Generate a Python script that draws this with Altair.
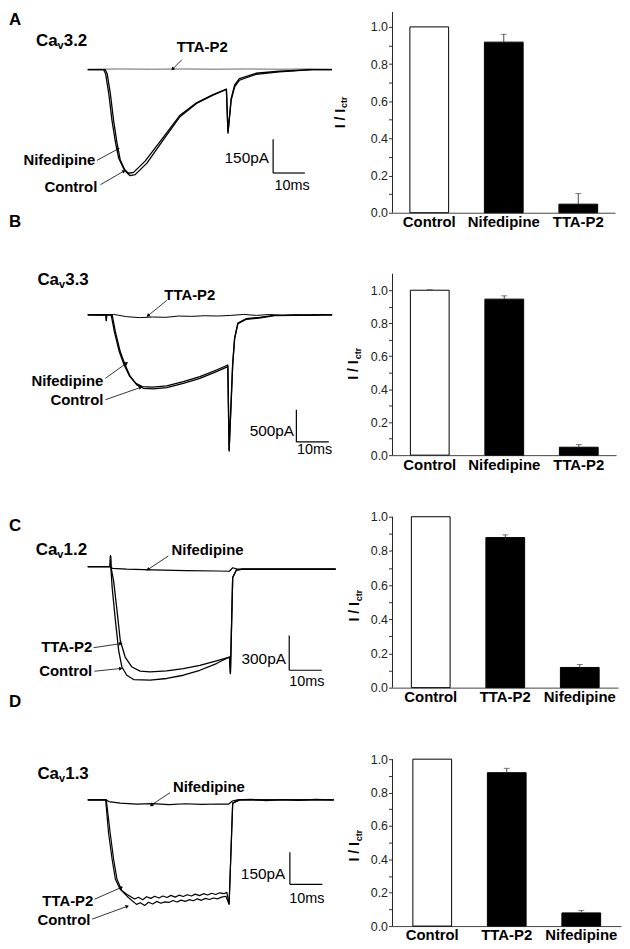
import math
import altair as alt
import pandas as pd

FONT = "Liberation Sans"

# ---------------- current traces (time in ms, current in pA) ----------------
# Panel A  Cav3.2
A_ctrl_t = [0, 5.5, 6.1, 7.1, 8.1, 9.2, 10.2, 11.8, 13.3, 14.9, 18.6, 23.75, 29.0, 34.2, 39.4, 43.6, 44.1, 44.6, 45.1, 46.2, 47.7, 52.9, 60.2, 70.5, 76.8]
A_ctrl_I = [0, 0, -18, -106, -224, -326, -400, -450, -471, -466, -415, -312, -209, -150, -113, -88, -282, -209, -135, -76, -47, -21, -10, 0, 0]
A_nif_t = [0, 5.0, 5.6, 6.6, 7.6, 8.7, 9.7, 11.3, 12.8, 14.4, 18.1, 23.5, 28.9, 34.2, 39.4, 43.6, 44.1, 44.6, 45.1, 46.2, 47.7, 52.9, 60.2, 70.5, 76.8]
A_nif_I = [0, 0, -18, -106, -224, -322, -392, -440, -460, -456, -405, -305, -204, -147, -111, -86, -275, -204, -128, -68, -40, -16, -7, 0, 0]
A_tta_t = [0, 10, 20, 30, 40, 50, 60, 70, 76.8]
A_tta_I = [2, 3, 2, 3, 2, 3, 2, 3, 2]

# Panel B  Cav3.3
B_ctrl_t = [0, 5.6, 5.7, 5.8, 7.5, 8.5, 10.0, 11.5, 13.1, 15.1, 17.1, 20.2, 24.3, 29.4, 34.5, 39.6, 43.1, 43.5, 44.6, 45.2, 46.2, 48.7, 52.8, 57.4, 75.2]
B_ctrl_I = [0, 0, -90, 0, 0, -268, -577, -783, -964, -1092, -1145, -1154, -1134, -1067, -990, -886, -809, -2123, -783, -371, -139, -71, -51, -12, 0]
B_nif_t = [0, 5.6, 5.7, 5.8, 7.2, 8.2, 9.7, 11.2, 12.8, 14.8, 16.8, 20.0, 24.3, 29.4, 34.5, 39.6, 43.1, 43.5, 44.6, 45.2, 46.2, 48.7, 52.8, 57.4, 75.2]
B_nif_I = [0, 0, -90, 0, 0, -268, -577, -783, -950, -1068, -1118, -1126, -1106, -1040, -962, -860, -782, -2100, -760, -360, -130, -62, -40, -8, 0]
B_tta_t = [0, 4, 8, 12, 16, 20, 24, 28, 32, 36, 40, 44, 48, 52, 56, 60, 64, 68, 72, 75.2]
B_tta_I = [0, -10, 5, -30, -45, -35, -40, -20, -25, -15, -20, -10, 5, -10, 5, -10, 0, -10, 5, 0]

# Panel C  Cav1.2
C_ctrl_t = [0, 6.9, 7.0, 7.1, 7.5, 8.5, 9.5, 10.5, 12.0, 14.1, 19.2, 24.3, 29.4, 34.5, 39.6, 43.6, 43.9, 44.6, 45.7, 47.7, 76.3]
C_ctrl_I = [0, 0, 92, 0, -180, -465, -722, -866, -937, -974, -980, -965, -937, -894, -836, -780, -922, -94, -31, -22, -22]
C_tta_t = [0, 6.9, 7.0, 7.1, 7.95, 9.0, 10.0, 11.5, 13.6, 16.1, 19.2, 24.3, 29.4, 34.5, 39.6, 43.6, 43.9, 44.6, 45.7, 47.7, 76.3]
C_tta_I = [0, 0, 92, 0, -123, -380, -637, -780, -866, -902, -908, -900, -879, -851, -814, -780, -922, -94, -31, -22, -22]
C_nif_t = [0, 6.9, 7.0, 7.1, 7.6, 12, 20, 30, 40, 43.6, 44.6, 46.0, 76.3]
C_nif_I = [0, 0, 92, 0, -15, -22, -28, -34, -38, -40, -10, -22, -22]

# Panel D  Cav1.3
D_ctrl_t = [0, 5.7, 6.9, 7.95, 9.0, 10.5, 12.5, 15.0, 16.2, 17.5, 18.7, 20.0, 21.2, 22.5, 23.7, 25.0, 26.2, 27.5, 28.7, 30.0, 31.2, 32.5, 33.7, 35.0, 36.2, 37.5, 38.7, 40.0, 41.2, 42.5, 43.5, 44.6, 46.7, 75.7]
D_ctrl_I = [0, 0, -155, -278, -371, -425, -456, -488, -480, -493, -478, -486, -474, -483, -476, -479, -470, -477, -468, -474, -466, -471, -462, -469, -460, -465, -458, -462, -454, -450, -487, -15, 0, 0]
D_tta_t = [0, 5.5, 6.4, 7.5, 8.5, 10.0, 12.0, 14.4, 15.6, 16.9, 18.1, 19.4, 20.6, 21.9, 23.1, 24.4, 25.6, 26.9, 28.1, 29.4, 30.6, 31.9, 33.1, 34.4, 35.6, 36.9, 38.1, 39.4, 40.6, 41.9, 42.8, 43.5, 44.6, 46.7, 75.7]
D_tta_I = [0, 0, -155, -278, -371, -418, -441, -463, -455, -466, -452, -460, -450, -458, -449, -456, -446, -454, -445, -451, -443, -449, -440, -447, -438, -444, -436, -442, -434, -438, -432, -487, -15, 0, 0]
D_nif_t = [0, 5.7, 6.5, 10, 15, 20, 25, 30, 35, 40, 43.3, 44.5, 46, 50, 55, 60, 65, 70, 75.7]
D_nif_I = [0, 0, -8, -15, -20, -17, -22, -18, -21, -19, -20, -5, 0, 3, -3, 2, -2, 3, 0]

# ---------------- normalised peak currents (I / Ictr) ----------------
BAR_A_cats = ["Control", "Nifedipine", "TTA-P2"]
BAR_A_vals = [1.0, 0.918, 0.046]
BAR_A_errs = [0.0, 0.042, 0.057]
BAR_B_cats = ["Control", "Nifedipine", "TTA-P2"]
BAR_B_vals = [1.0, 0.946, 0.048]
BAR_B_errs = [0.003, 0.02, 0.016]
BAR_C_cats = ["Control", "TTA-P2", "Nifedipine"]
BAR_C_vals = [1.0, 0.878, 0.118]
BAR_C_errs = [0.0, 0.016, 0.017]
BAR_D_cats = ["Control", "TTA-P2", "Nifedipine"]
BAR_D_vals = [1.0, 0.919, 0.079]
BAR_D_errs = [0.0, 0.026, 0.014]
Y_TICKS = [0.0, 0.1, 0.2, 0.3, 0.4, 0.5, 0.6, 0.7, 0.8, 0.9, 1.0]
PANEL_LETTERS = ["A", "B", "C", "D"]

TRACE_W = 340
COL_GAP = 46


def letter_layer(letter, x, y):
    one = pd.DataFrame({"k": [0]})
    return alt.Chart(one).mark_text(text=letter, align="left", baseline="middle", font=FONT,
                                    fontSize=17, fontWeight="bold", color="black"
                                    ).encode(x=alt.value(x), y=alt.value(y))


def trace_panel(series, dom_t, dom_I, H, letter, ca, labels, arrows, sbar, amp_lab, ms_lab):
    W = TRACE_W
    sx = W / (dom_t[1] - dom_t[0])
    sy = H / (dom_I[1] - dom_I[0])
    xs = alt.Scale(domain=dom_t, nice=False, zero=False)
    ys = alt.Scale(domain=dom_I, nice=False, zero=False)

    def X(f="t"):
        return alt.X(f"{f}:Q", scale=xs, axis=None)

    def Y(f="I"):
        return alt.Y(f"{f}:Q", scale=ys, axis=None)

    layers = []
    for ts, Is, col, sw in series:
        df = pd.DataFrame({"t": ts, "I": Is, "i": list(range(len(ts)))})
        layers.append(alt.Chart(df).mark_line(color=col, strokeWidth=sw, strokeJoin="round")
                      .encode(x=X(), y=Y(), order="i:Q"))

    def text(label, t, I, align, size, weight="bold"):
        df = pd.DataFrame({"t": [t], "I": [I], "label": [label]})
        return alt.Chart(df).mark_text(align=align, baseline="middle", font=FONT, fontSize=size,
                                       fontWeight=weight, color="black"
                                       ).encode(x=X(), y=Y(), text="label:N")

    if letter is not None:
        layers.append(letter_layer(letter[0], letter[1], letter[2]))
    # channel name Ca_v (sub-parts placed after "Ca" by their pixel widths)
    ct, cI = ca[1], ca[2]
    layers.append(text("Ca", ct, cI, "left", 17))
    layers.append(text("v", ct + 21.7 / sx, cI - 5.0 / sy, "left", 11))
    layers.append(text(ca[0], ct + 28.0 / sx, cI, "left", 17))

    for lab, t, I, al in labels:
        layers.append(text(lab, t, I, al, 15))

    # arrows
    adf = pd.DataFrame(arrows, columns=["t", "I", "t2", "I2"])
    angs = []
    for _, r in adf.iterrows():
        dx = (r.t2 - r.t) * sx
        dy = -(r.I2 - r.I) * sy
        angs.append((math.degrees(math.atan2(dx, -dy)) + 360) % 360)
    adf["ang"] = angs
    layers.append(alt.Chart(adf).mark_rule(color="black", strokeWidth=0.8)
                  .encode(x=X(), y=Y(), x2="t2:Q", y2="I2:Q"))
    layers.append(alt.Chart(adf).mark_point(shape="triangle", filled=True, size=16, color="black", opacity=1)
                  .encode(x=X("t2"), y=Y("I2"), angle=alt.Angle("ang:Q", scale=None)))

    # scale bar
    st, sI, dur, amp = sbar
    sdf = pd.DataFrame({"t": [st], "I": [sI], "t2": [st + dur], "I2": [sI + amp]})
    layers.append(alt.Chart(sdf).mark_rule(color="black", strokeWidth=1.2).encode(x=X(), y=Y(), y2="I2:Q"))
    layers.append(alt.Chart(sdf).mark_rule(color="black", strokeWidth=1.2).encode(x=X(), x2="t2:Q", y=Y()))
    layers.append(text(amp_lab[0], amp_lab[1], amp_lab[2], "right", 15.5, weight="normal"))
    layers.append(text(ms_lab[0], ms_lab[1], ms_lab[2], "left", 14.5, weight="normal"))

    return alt.layer(*layers).properties(width=W, height=H)


def bar_panel(cats, vals, errs, axis_top, ymax, W, H, title_x, title_y, letter=None):
    df = pd.DataFrame({"cat": cats, "val": vals, "err": errs,
                       "top": [v + e for v, e in zip(vals, errs)],
                       "fill": ["white"] + ["black"] * (len(cats) - 1)})
    p_in = 0.48
    p_out = (W / 75.0 - 3 + p_in) / 2
    xaxis = alt.Axis(title=None, labelAngle=0, ticks=False, labelFont=FONT, labelFontSize=15,
                     labelFontWeight="bold", labelColor="black", labelPadding=2,
                     domainColor="#444", domainWidth=1)
    xenc = alt.X("cat:N", sort=cats, scale=alt.Scale(paddingInner=p_in, paddingOuter=p_out), axis=xaxis)
    ysc = alt.Scale(domain=[0, ymax], nice=False, zero=True)
    yaxis = alt.Axis(title=None, values=Y_TICKS, grid=False, domain=False,
                     labelExpr="round(datum.value*10) % 2 == 0 ? format(datum.value, '.1f') : ''",
                     labelFont=FONT, labelFontSize=12.5, labelColor="#222", labelPadding=1,
                     tickSize=4, tickColor="#333")
    bars = alt.Chart(df).mark_bar(stroke="black", strokeWidth=1).encode(
        x=xenc, y=alt.Y("val:Q", scale=ysc, axis=yaxis), fill=alt.Fill("fill:N", scale=None))
    edf = df[df.err > 0]
    erule = alt.Chart(edf).mark_rule(color="#444", strokeWidth=1).encode(
        x=xenc, y=alt.Y("val:Q", scale=ysc, axis=yaxis), y2="top:Q")
    ecap = alt.Chart(edf).mark_tick(color="#444", thickness=1, size=6).encode(
        x=xenc, y=alt.Y("top:Q", scale=ysc, axis=yaxis))
    # the y axis line itself, from 0 up to the top of the axis
    adf = pd.DataFrame({"y0": [0.0], "y1": [axis_top]})
    aline = alt.Chart(adf).mark_rule(color="#222", strokeWidth=1).encode(
        x=alt.value(0), y=alt.Y("y0:Q", scale=ysc, axis=yaxis), y2="y1:Q")
    one = pd.DataFrame({"k": [0]})
    t1 = alt.Chart(one).mark_text(text="I\u00a0/\u00a0I", angle=270, align="left", baseline="alphabetic",
                                  font=FONT, fontSize=14, fontWeight="bold", color="black").encode(
        x=alt.value(title_x), y=alt.value(title_y))
    t2 = alt.Chart(one).mark_text(text="ctr", angle=270, align="left", baseline="alphabetic",
                                  font=FONT, fontSize=9, fontWeight="bold", color="black",
                                  dx=20.5, dy=3).encode(x=alt.value(title_x), y=alt.value(title_y))
    layers = [bars, erule, ecap, aline, t1, t2]
    if letter is not None:
        # panel letter at the far left of the row (left of the trace panel column)
        layers.append(letter_layer(letter[0], -(TRACE_W + COL_GAP), letter[1]))
    return alt.layer(*layers).properties(width=W, height=H)


BLACK = "black"
tA = trace_panel(
    [(A_tta_t, A_tta_I, "#666", 1.0), (A_ctrl_t, A_ctrl_I, BLACK, 1.3), (A_nif_t, A_nif_I, BLACK, 1.3)],
    [-24.78, 81.47], [-635.3, 255.9], 202,
    (PANEL_LETTERS[0], 0, 8.5), ("3.2", -16.3, 128),
    [("TTA-P2", 36.0, 100.2, "center"), ("Nifedipine", 2.4, -401.5, "right"), ("Control", 3.0, -520.6, "right")],
    [(29.6, 44.1, 26.8, 4.4), (2.9, -402.8, 9.4, -353), (4.0, -510.5, 11.25, -451.4)],
    (58.3, -459, 10, 150), ("150pA", 57.0, -392.7), ("10ms", 58.7, -516.2))

tB = trace_panel(
    [(B_tta_t, B_tta_I, BLACK, 1.0), (B_ctrl_t, B_ctrl_I, BLACK, 1.3), (B_nif_t, B_nif_I, BLACK, 1.3)],
    [-24.25, 79.72], [-2704.2, 1155.6], 249.5,
    None, ("3.3", -15.5, 544.5),
    [("TTA-P2", 31.4, 300.1, "center"), ("Nifedipine", 4.8, -1030.3, "right"), ("Control", 4.8, -1324, "right")],
    [(24.3, 222.8, 18.65, -9.3), (5.4, -990, 11.8, -758), (5.4, -1324, 16.1, -1134)],
    (64.2, -1980, 10, 500), ("500pA", 63.5, -1814.6), ("10ms", 64.4, -2113))

tC = trace_panel(
    [(C_nif_t, C_nif_I, BLACK, 1.2), (C_ctrl_t, C_ctrl_I, BLACK, 1.3), (C_tta_t, C_tta_I, BLACK, 1.3)],
    [-24.25, 79.72], [-1091.0, 430.2], 177.5,
    (PANEL_LETTERS[2], 0, 9.5), ("1.2", -16.0, 143),
    [("Nifedipine", 25.8, 140.5, "left"), ("TTA-P2", 1.35, -694.2, "right"), ("Control", 1.35, -902.4, "right")],
    [(24.8, 91.7, 18.65, -22.3), (1.8, -699.3, 10.0, -665), (2.05, -902.4, 10.0, -879.3)],
    (62.0, -893.8, 10, 300), ("300pA", 61.0, -793.6), ("10ms", 62.0, -994.1))

tD = trace_panel(
    [(D_nif_t, D_nif_I, BLACK, 1.2), (D_ctrl_t, D_ctrl_I, BLACK, 1.2), (D_tta_t, D_tta_I, BLACK, 1.2)],
    [-24.25, 79.72], [-589.3, 366.6], 206,
    None, ("1.3", -15.5, 120.6),
    [("Nifedipine", 26.2, 58.9, "left"), ("TTA-P2", 1.7, -471.9, "right"), ("Control", 0.8, -560, "right")],
    [(25.3, 33.9, 19.7, -23.2), (2.05, -464, 10.2, -409.7), (1.35, -556.8, 12.0, -497.9)],
    (62.2, -394.4, 10, 150), ("150pA", 60.8, -348), ("10ms", 62.0, -464))

bA = bar_panel(BAR_A_cats, BAR_A_vals, BAR_A_errs, 1.08, 1.08, 224, 202, -48.3, 117)
bB = bar_panel(BAR_B_cats, BAR_B_vals, BAR_B_errs, 1.1, 1.3012, 225, 216, -35, 140,
               letter=(PANEL_LETTERS[1], -19))
bC = bar_panel(BAR_C_cats, BAR_C_vals, BAR_C_errs, 1.0, 1.0, 227, 172, -34, 105.5)
bD = bar_panel(BAR_D_cats, BAR_D_vals, BAR_D_errs, 1.0, 1.2262, 230, 206, -34, 141,
               letter=(PANEL_LETTERS[3], -20))

chart = alt.ConcatChart(
    concat=[tA, bA, tB, bB, tC, bC, tD, bD],
    columns=2,
    spacing=alt.RowColnumber(row=28, column=COL_GAP),
    bounds="flush",
    align="each",
    padding=0,
).configure_view(stroke="transparent")

chart.save("out.html", embed_options={"renderer": "svg", "actions": False})
